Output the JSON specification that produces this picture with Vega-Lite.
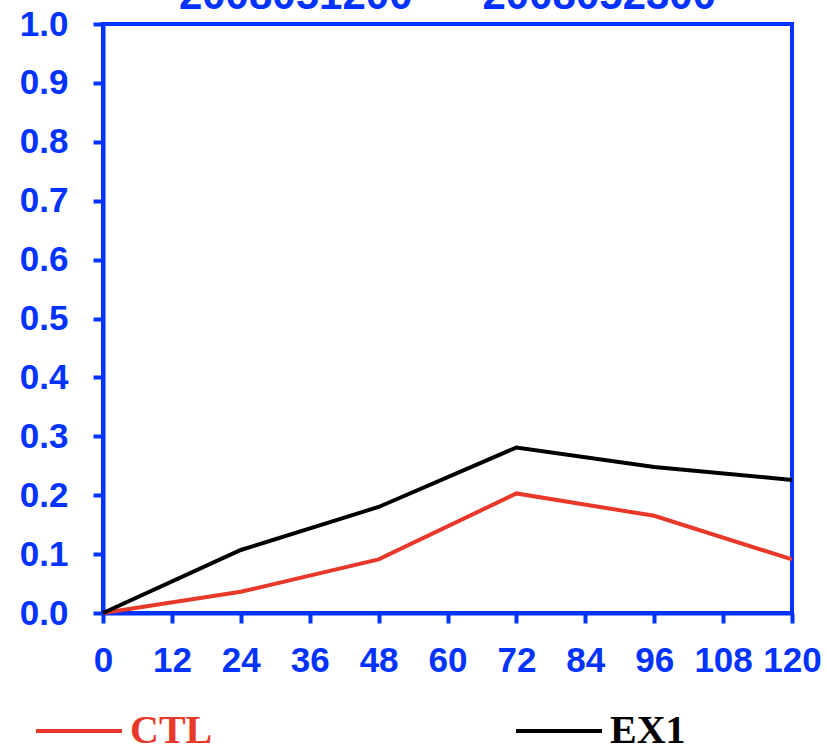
{
  "$schema": "https://vega.github.io/schema/vega-lite/v6.json",
  "autosize": {"type": "none"},
  "padding": {"left": 103, "top": 24, "right": 35, "bottom": 138},
  "width": 689,
  "height": 589,
  "background": "white",
  "title": {
    "text": "2008051200\u00a0\u00a0\u00a0\u00a0\u00a0\u00a02008052300",
    "anchor": "middle",
    "frame": "group",
    "font": "Liberation Sans",
    "fontSize": 42,
    "fontWeight": "bold",
    "color": "#0033ff",
    "baseline": "alphabetic",
    "offset": 2,
    "dy": 46
  },
  "data": {
    "values": [
      {"hour": 0, "run": "CTL", "score": 0.0},
      {"hour": 24, "run": "CTL", "score": 0.036},
      {"hour": 48, "run": "CTL", "score": 0.091},
      {"hour": 72, "run": "CTL", "score": 0.203},
      {"hour": 96, "run": "CTL", "score": 0.165},
      {"hour": 120, "run": "CTL", "score": 0.091},
      {"hour": 0, "run": "EX1", "score": 0.0},
      {"hour": 24, "run": "EX1", "score": 0.107},
      {"hour": 48, "run": "EX1", "score": 0.18},
      {"hour": 72, "run": "EX1", "score": 0.281},
      {"hour": 96, "run": "EX1", "score": 0.248},
      {"hour": 120, "run": "EX1", "score": 0.226}
    ]
  },
  "mark": {"type": "line", "strokeWidth": 4},
  "encoding": {
    "x": {
      "field": "hour",
      "type": "quantitative",
      "scale": {"domain": [0, 120], "nice": false, "zero": false},
      "axis": {
        "title": null,
        "values": [0, 12, 24, 36, 48, 60, 72, 84, 96, 108, 120],
        "labelPadding": 20,
        "labelOverlap": false,
        "labelFlush": false
      }
    },
    "y": {
      "field": "score",
      "type": "quantitative",
      "scale": {"domain": [0, 1], "nice": false},
      "axis": {
        "title": null,
        "values": [0, 0.1, 0.2, 0.3, 0.4, 0.5, 0.6, 0.7, 0.8, 0.9, 1.0],
        "format": ".1f",
        "labelPadding": 25,
        "labelOverlap": false,
        "labelFlush": false
      }
    },
    "color": {
      "field": "run",
      "type": "nominal",
      "scale": {"domain": ["CTL", "EX1"], "range": ["#e8382a", "#000000"]},
      "legend": {
        "title": null,
        "orient": "none",
        "legendX": -69,
        "legendY": 662,
        "direction": "horizontal",
        "columns": 2,
        "columnPadding": 295,
        "symbolType": "stroke",
        "symbolSize": 7396,
        "symbolStrokeWidth": 4,
        "labelOffset": 6,
        "labelFont": "Liberation Serif",
        "labelFontSize": 40,
        "labelFontWeight": "bold",
        "encode": {
          "labels": {
            "update": {
              "fill": {"signal": "datum.label === 'CTL' ? '#e8382a' : '#000000'"}
            }
          }
        }
      }
    }
  },
  "config": {
    "view": {"stroke": "#0033ff", "strokeWidth": 4},
    "axis": {
      "grid": false,
      "domainColor": "#0033ff",
      "domainWidth": 4,
      "tickColor": "#0033ff",
      "tickWidth": 4,
      "tickSize": 10,
      "labelColor": "#0033ff",
      "labelFont": "Liberation Sans",
      "labelFontSize": 35,
      "labelFontWeight": "bold"
    }
  }
}
